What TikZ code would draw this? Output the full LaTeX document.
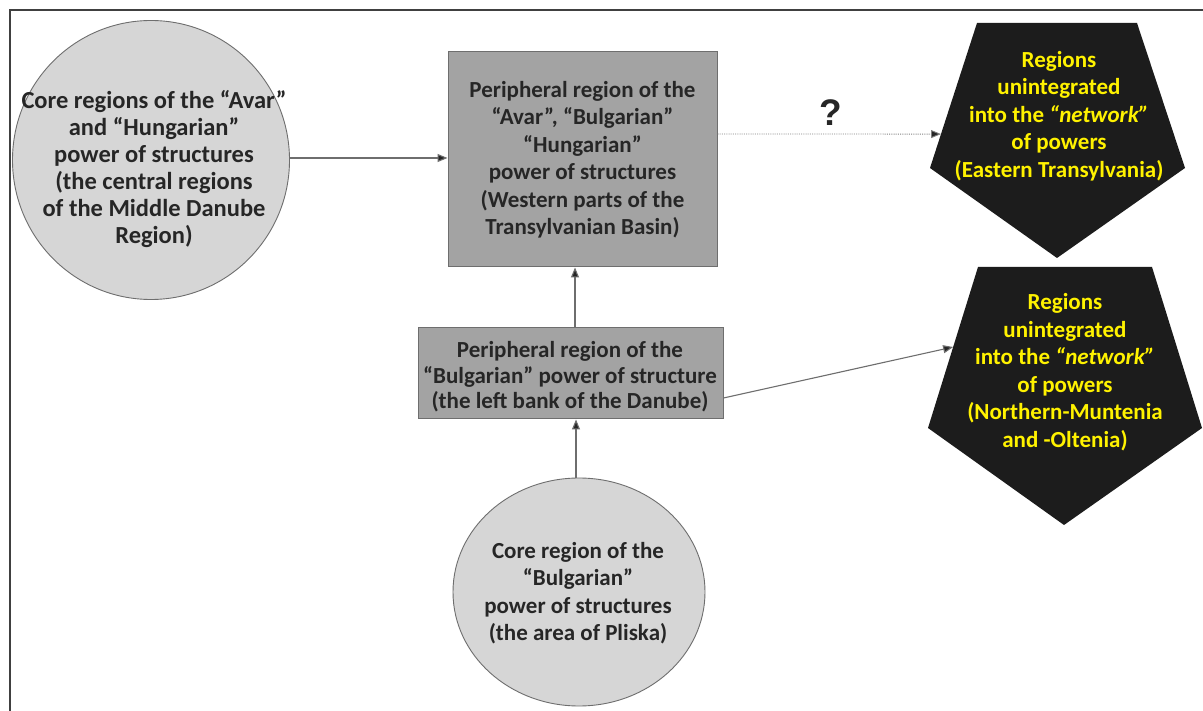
\documentclass[tikz,border=0pt]{standalone}
\usepackage{fontspec}
\setmainfont{Carlito}
\newfontfamily\qfont{Liberation Sans}
\usetikzlibrary{shapes.geometric,arrows.meta,calc}
\definecolor{circfill}{HTML}{D6D6D6}
\definecolor{boxfill}{HTML}{A3A3A3}
\definecolor{edgegray}{HTML}{6E6E6E}
\definecolor{txtgray}{HTML}{262626}
\definecolor{pentfill}{HTML}{1C1C1C}
\definecolor{yel}{HTML}{FFF200}
\begin{document}
\begin{tikzpicture}[x=1pt,y=-1pt,
  every node/.style={font=\bfseries\fontsize{23}{27.5}\selectfont, text=txtgray, align=center},
  bigtext/.style={font=\bfseries\fontsize{24.5}{27}\selectfont},
  tighttext/.style={font=\bfseries\fontsize{23}{25.5}\selectfont},
  coreellipse/.style={ellipse, draw=edgegray, fill=circfill, line width=0.9pt, inner sep=0pt},
  periphbox/.style={rectangle, draw=edgegray, fill=boxfill, line width=1pt, inner sep=0pt},
  pentshape/.style={fill=pentfill},
  penttext/.style={text=yel},
  conn/.style={draw=edgegray, line width=1.1pt, -{Triangle[length=10pt,width=8pt,fill=txtgray]}},
  dotconn/.style={draw=gray, line width=0.9pt, dash pattern=on 1pt off 1.2pt, -{Triangle[length=10pt,width=8pt,fill=txtgray]}},
  framerule/.style={draw=black!75, line width=1.6pt}
]
\useasboundingbox (0,0) rectangle (1203,711);
\fill[white] (0,0) rectangle (1203,711);
\draw[framerule] (10,711) -- (10,10) -- (1203,10);

% left core ellipse
\node[coreellipse, minimum width=277pt, minimum height=279pt] (avar) at (151,160) {};
\node[bigtext] (avartext) at (154,169)
 {Core regions of the “Avar”\\and “Hungarian”\\power of structures\\(the central regions\\of the Middle Danube\\Region)};

% top peripheral box
\node[periphbox, minimum width=269pt, minimum height=215pt] (west) at (582.5,159.5)
 {Peripheral region of the\\“Avar”, “Bulgarian”\\“Hungarian”\\power of structures\\(Western parts of the\\Transylvanian Basin)};

% bottom peripheral box
\node[periphbox, minimum width=305pt, minimum height=91pt] (left) at (570.5,373.5) {};
\node[tighttext] (lefttext) at (570,377)
 {Peripheral region of the\\“Bulgarian” power of structure\\(the left bank of the Danube)};

% bottom core ellipse
\node[coreellipse, minimum width=252pt, minimum height=228pt] (pliska) at (579,592) {};
\node (pliskatext) at (578,593)
 {Core region of the\\“Bulgarian”\\power of structures\\(the area of Pliska)};

% pentagon 1
\coordinate (p1a) at (977,23);
\coordinate (p1b) at (1137,23);
\coordinate (p1c) at (1185,168);
\coordinate (p1d) at (1057,258);
\coordinate (p1e) at (930,168);
\fill[pentshape] (p1a) -- (p1b) -- (p1c) -- (p1d) -- (p1e) -- cycle;
\node[penttext] (east) at (1059,116)
 {Regions\\unintegrated\\into the \textit{“network”}\\of powers\\(Eastern Transylvania)};
\coordinate (eastin) at ($(p1a)!0.766!(p1e)$);

% pentagon 2
\coordinate (p2a) at (978,267);
\coordinate (p2b) at (1152,267);
\coordinate (p2c) at (1202,428);
\coordinate (p2d) at (1064,525);
\coordinate (p2e) at (928,428);
\fill[pentshape] (p2a) -- (p2b) -- (p2c) -- (p2d) -- (p2e) -- cycle;
\node[penttext] (munt) at (1065,372)
 {Regions\\unintegrated\\into the \textit{“network”}\\of powers\\(Northern-Muntenia\\and -Oltenia)};
\coordinate (muntin) at ($(p2a)!0.497!(p2e)$);

% connectors
\draw[conn] (avar.east |- 0,158) -- (west.west |- 0,158);
\draw[dotconn] (west.east |- 0,134) -- (eastin);
\node[font=\qfont\bfseries\fontsize{37}{37}\selectfont, text=txtgray] (q) at (831,113) {?};
\draw[conn] (left.north -| 575,0) -- (west.south -| 575,0);
\draw[conn] (pliska.north -| 576,0) -- (left.south -| 576,0);
\draw[conn] (left.east |- 0,398) -- (muntin);
\end{tikzpicture}
\end{document}
